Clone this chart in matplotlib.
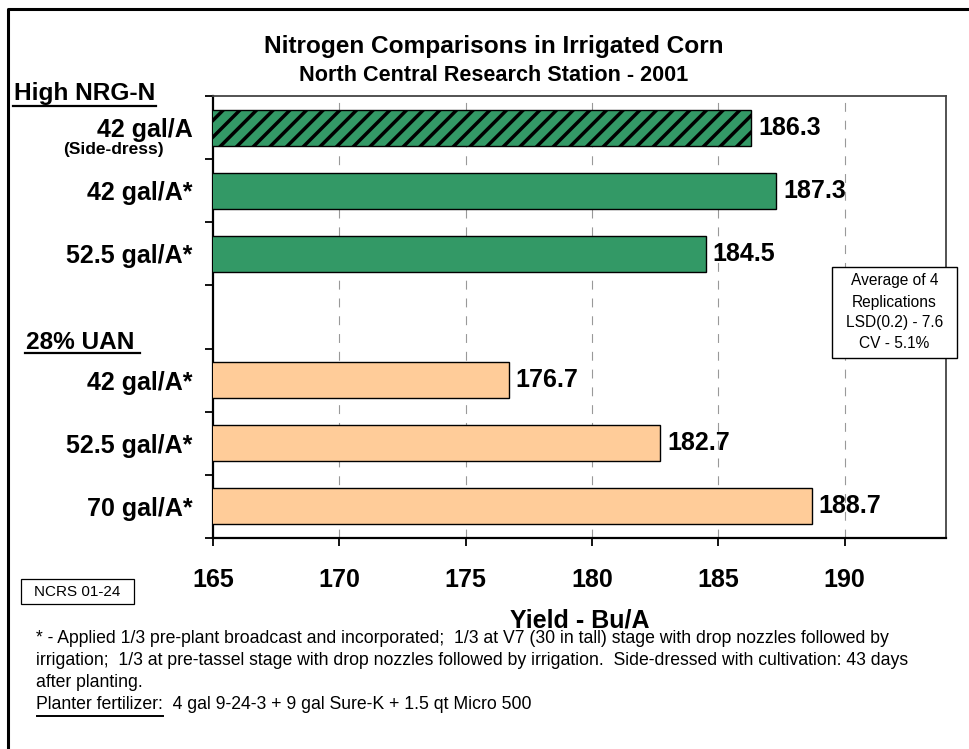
import matplotlib
matplotlib.use("Agg")
import matplotlib.pyplot as plt
from matplotlib.lines import Line2D
from matplotlib.patches import Rectangle

plt.rcParams['font.family'] = ['Liberation Sans', 'DejaVu Sans']
plt.rcParams['hatch.linewidth'] = 2.5
plt.rcParams['hatch.color'] = 'black'

# data
row_labels = ["42 gal/A", "42 gal/A*", "52.5 gal/A*", "",
              "42 gal/A*", "52.5 gal/A*", "70 gal/A*"]
nrg_rows = [0, 1, 2]
nrg_yield = [186.3, 187.3, 184.5]
uan_rows = [4, 5, 6]
uan_yield = [176.7, 182.7, 188.7]
x_ticks = [165, 170, 175, 180, 185, 190]

GREEN = '#339966'
PEACH = '#FFCC99'

W, H = 970, 749
fig = plt.figure(figsize=(W / 100, H / 100), dpi=100)


def fx(px):
    return px / W


def fy(py):
    return 1 - py / H


def box(x0, y0, x1, y1, lw=1):
    fig.add_artist(Rectangle((fx(x0), fy(y1)), fx(x1 - x0), (y1 - y0) / H,
                             facecolor='white', edgecolor='black',
                             linewidth=lw, transform=fig.transFigure))


ax = fig.add_axes([fx(213), fy(538), fx(945.7 - 213), (538 - 96) / H])

bars_nrg = ax.barh(nrg_rows, nrg_yield, height=0.57, color=GREEN,
                   edgecolor='black', linewidth=1, zorder=3)
bars_nrg[0].set_hatch('//')
bars_uan = ax.barh(uan_rows, uan_yield, height=0.57, color=PEACH,
                   edgecolor='black', linewidth=1, zorder=3)
for bars in (bars_nrg, bars_uan):
    ax.bar_label(bars, fmt='%.1f', padding=5, fontsize=18,
                 fontweight='bold', zorder=4)

ax.set_xlim(165, 194)
ax.set_ylim(6.5, -0.5)

ax.set_xticks(x_ticks)
ax.set_xticklabels([str(t) for t in x_ticks], fontsize=18, fontweight='bold')
ax.tick_params(axis='x', length=5.5, width=1.3, pad=16)

ax.set_yticks(range(len(row_labels)))
ax.set_yticklabels(row_labels, fontsize=18, fontweight='bold')
ax.tick_params(axis='y', which='major', length=0, pad=14.5)
ax.set_yticks([i - 0.5 for i in range(len(row_labels) + 1)], minor=True)
ax.tick_params(axis='y', which='minor', length=6, width=1.3)

for x in x_ticks[1:]:
    ax.axvline(x, color='#999999', linewidth=0.8, linestyle=(0, (8, 8)),
               zorder=1)

for side in ('left', 'bottom'):
    ax.spines[side].set_linewidth(1.6)
    ax.spines[side].set_color('black')
for side in ('top', 'right'):
    ax.spines[side].set_linewidth(1.3)
    ax.spines[side].set_color('#444444')

ax.annotate("(Side-dress)", xy=(-0.1358, 0), xycoords=('axes fraction', 'data'),
            xytext=(0, -15.5), textcoords='offset points',
            ha='center', va='center', fontsize=12.5, fontweight='bold')

fig.text(fx(580), fy(627), "Yield - Bu/A", ha='center', va='baseline',
         fontsize=18, fontweight='bold')

# titles
fig.text(fx(494), fy(53), "Nitrogen Comparisons in Irrigated Corn",
         ha='center', va='baseline', fontsize=17.6, fontweight='bold')
fig.text(fx(494), fy(81), "North Central Research Station - 2001",
         ha='center', va='baseline', fontsize=15.6, fontweight='bold')

# group headers, underlined
fig.text(fx(14), fy(100), "High NRG-N", ha='left', va='baseline',
         fontsize=17.6, fontweight='bold')
fig.add_artist(Line2D([fx(13), fx(156)], [fy(106), fy(106)],
                      color='black', linewidth=1.6))
fig.text(fx(26), fy(349), "28% UAN", ha='left', va='baseline',
         fontsize=17.6, fontweight='bold')
fig.add_artist(Line2D([fx(25), fx(140)], [fy(353), fy(353)],
                      color='black', linewidth=1.6))

# stats box
box(832, 267, 957, 358)
fig.text(fx(894.5), fy(312.5),
         "Average of 4\nReplications\nLSD(0.2) - 7.6\nCV - 5.1%",
         ha='center', va='center', fontsize=11.2, linespacing=1.5)

# id box
box(21, 579, 134, 604, lw=0.9)
fig.text(fx(77.5), fy(591.5), "NCRS 01-24", ha='center', va='center',
         fontsize=11)

# footnotes
notes = [
    "* - Applied 1/3 pre-plant broadcast and incorporated;  1/3 at V7 (30 in tall) stage with drop nozzles followed by",
    "irrigation;  1/3 at pre-tassel stage with drop nozzles followed by irrigation.  Side-dressed with cultivation: 43 days",
    "after planting.",
    "Planter fertilizer:  4 gal 9-24-3 + 9 gal Sure-K + 1.5 qt Micro 500",
]
baselines = [643, 665, 687, 709]
for line, b in zip(notes, baselines):
    fig.text(fx(36), fy(b), line, ha='left', va='baseline', fontsize=12.7)
fig.add_artist(Line2D([fx(37), fx(163)], [fy(716), fy(716)],
                      color='black', linewidth=1.4))

# outer frame
fig.add_artist(Line2D([fx(8.5), fx(8.5), fx(975)], [fy(760), fy(8.5), fy(8.5)],
                      color='black', linewidth=2.2))

fig.savefig("out.png", dpi=100)
